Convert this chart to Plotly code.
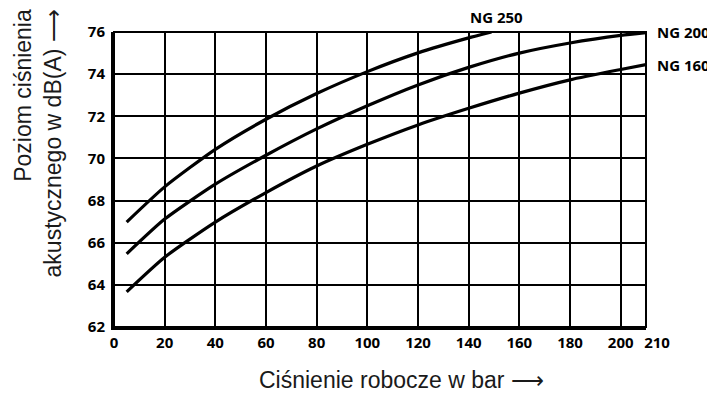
import plotly.graph_objects as go

pressure_250 = [5, 20, 40, 60, 80, 100, 120, 140, 149]
ng250 = [66.98, 68.65, 70.43, 71.86, 73.08, 74.12, 75.01, 75.72, 76.0]

pressure_200 = [5, 20, 40, 60, 80, 100, 120, 140, 160, 180, 200, 210]
ng200 = [65.47, 67.12, 68.78, 70.15, 71.4, 72.5, 73.49, 74.32, 75.0, 75.48, 75.84, 75.97]

pressure_160 = [5, 20, 40, 60, 80, 100, 120, 140, 160, 180, 200, 210]
ng160 = [63.67, 65.31, 66.98, 68.38, 69.64, 70.67, 71.59, 72.38, 73.1, 73.73, 74.22, 74.45]

x_ticks = [0, 20, 40, 60, 80, 100, 120, 140, 160, 180, 200]
x_tick_last = [210]
y_ticks = [62, 64, 66, 68, 70, 72, 74, 76]

series = [("NG 250", pressure_250, ng250), ("NG 200", pressure_200, ng200), ("NG 160", pressure_160, ng160)]

fig = go.Figure()
for name, xs, ys in series:
    fig.add_trace(go.Scatter(x=xs, y=ys, mode="lines", name=name,
                             line=dict(color="black", width=3.2, shape="spline", smoothing=0.6),
                             showlegend=False))

tickfont = dict(family="Open Sans", size=15, color="black", weight="bold")

fig.update_layout(
    xaxis=dict(range=[0, 210], tickvals=x_ticks, ticktext=[str(v) for v in x_ticks], tickangle=0,
               showgrid=True, gridcolor="black", gridwidth=1.5,
               showline=True, linecolor="black", linewidth=3, mirror=False,
               zeroline=False, ticks="", tickfont=tickfont, ticklabelstandoff=0),
    xaxis2=dict(range=[0, 210], overlaying="x", side="bottom", anchor="y",
                tickvals=x_tick_last, ticktext=[str(v) for v in x_tick_last], tickangle=0,
                showgrid=False, showline=False, zeroline=False, ticks="",
                tickfont=tickfont, ticklabelstandoff=5, ticklabelshift=11),
    yaxis=dict(range=[62, 76], tickvals=y_ticks, ticktext=[str(v) for v in y_ticks],
               showgrid=True, gridcolor="black", gridwidth=1.5,
               showline=True, linecolor="black", linewidth=3, mirror=False,
               zeroline=False, ticks="", tickfont=tickfont, ticklabelstandoff=3),
)
# invisible trace to activate the secondary x axis carrying the 210 label
fig.add_trace(go.Scatter(x=[210], y=[62], xaxis="x2", mode="markers",
                         marker=dict(opacity=0), showlegend=False, hoverinfo="skip"))

# right / top border
fig.add_shape(type="rect", xref="paper", yref="paper", x0=0, y0=0, x1=1, y1=1,
              line=dict(color="black", width=2))

label_font = dict(family="Open Sans", size=15, color="black", weight="bold")
fig.add_annotation(x=150, y=76, text="NG 250", showarrow=False, xref="x", yref="y",
                   yshift=15, xshift=2, font=label_font)
fig.add_annotation(x=210, y=76, text="NG 200", showarrow=False, xref="x", yref="y",
                   xanchor="left", xshift=9, font=label_font)
fig.add_annotation(x=210, y=74.45, text="NG 160", showarrow=False, xref="x", yref="y",
                   xanchor="left", xshift=9, font=label_font)

title_font = dict(family="Liberation Sans", size=23, color="#1a1a1a")
fig.add_annotation(text="Ciśnienie robocze w bar ⟶", x=0.54, y=-0.18, xref="paper", yref="paper",
                   showarrow=False, yanchor="middle", xanchor="center", font=title_font)
fig.add_annotation(text="Poziom ciśnienia<br>akustycznego w dB(A) ⟶", x=-0.143, y=0.622,
                   xref="paper", yref="paper", showarrow=False, textangle=-90, align="right",
                   xanchor="center", yanchor="middle", font=title_font)

fig.update_layout(width=707, height=386, plot_bgcolor="white", paper_bgcolor="white",
                  margin=dict(l=106, r=69, t=24, b=67))

fig.write_html("out.html")
